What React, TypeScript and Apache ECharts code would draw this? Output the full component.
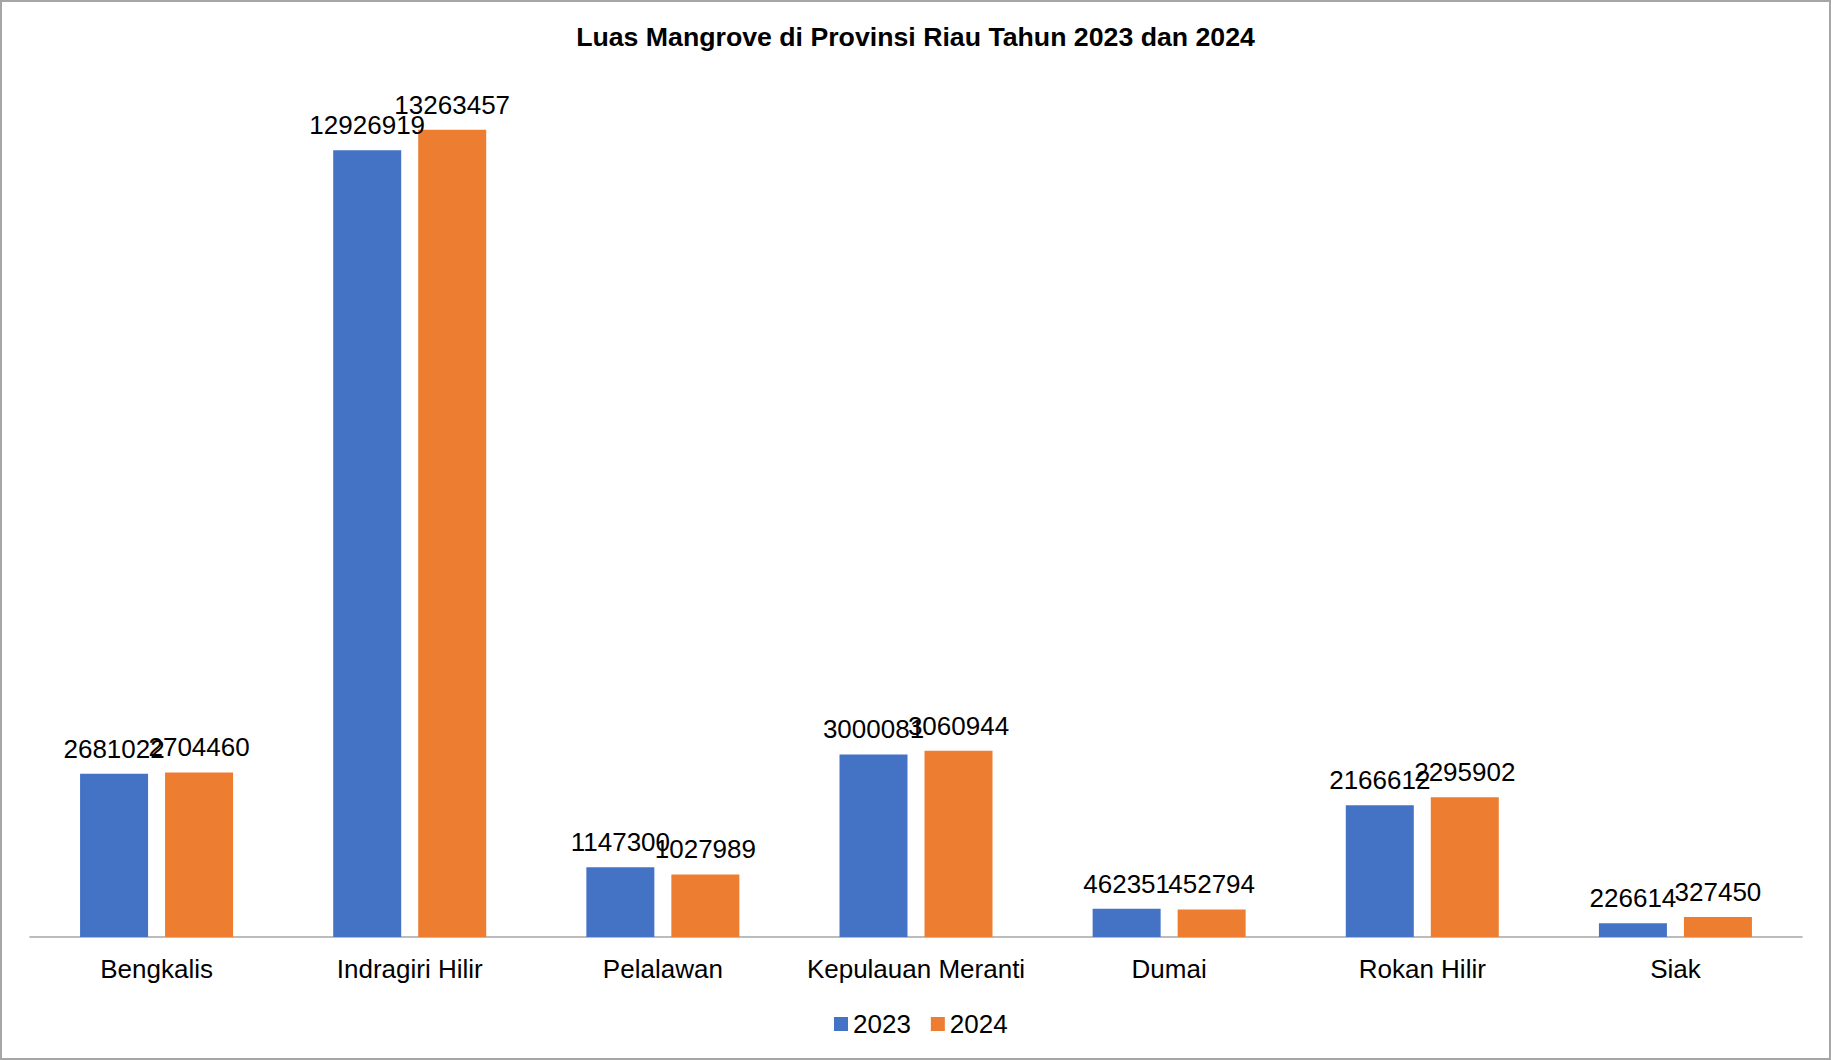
import React, { useEffect, useRef } from "react";
import * as echarts from "echarts";

const categories = [
  "Bengkalis",
  "Indragiri Hilir",
  "Pelalawan",
  "Kepulauan Meranti",
  "Dumai",
  "Rokan Hilir",
  "Siak",
];
const values2023 = [2681022, 12926919, 1147300, 3000081, 462351, 2166612, 226614];
const values2024 = [2704460, 13263457, 1027989, 3060944, 452794, 2295902, 327450];
const seriesNames = ["2023", "2024"];

const FONT = "'Liberation Sans', Arial, Helvetica, sans-serif";

export default function App() {
  const ref = useRef<HTMLDivElement>(null);
  useEffect(() => {
    document.body.style.margin = "0";
    if (!ref.current) return;
    const chart = echarts.init(ref.current, null, { renderer: "svg" });
    const labelStyle = {
      show: true,
      position: "top" as const,
      distance: 12,
      color: "#000000",
      fontSize: 26,
      fontFamily: FONT,
    };
    chart.setOption({
      animation: false,
      backgroundColor: "#ffffff",
      title: {
        text: "Luas Mangrove di Provinsi Riau Tahun 2023 dan 2024",
        left: "center",
        top: 18,
        textStyle: {
          fontSize: 26.7,
          fontWeight: "bold",
          color: "#000000",
          fontFamily: FONT,
        },
      },
      legend: {
        data: seriesNames,
        bottom: 18,
        left: 829,
        itemWidth: 14,
        itemHeight: 14,
        itemGap: 20,
        icon: "rect",
        textStyle: { fontSize: 26, color: "#000000", fontFamily: FONT },
      },
      grid: { left: 30, right: 29, top: 85, bottom: 1060 - 937, containLabel: false },
      xAxis: {
        type: "category",
        data: categories,
        axisLine: { lineStyle: { color: "#A6A6A6", width: 1.5 } },
        axisTick: { show: false },
        axisLabel: {
          color: "#000000",
          fontSize: 26,
          fontFamily: FONT,
          margin: 19,
          interval: 0,
        },
      },
      yAxis: {
        type: "value",
        min: 0,
        max: 14000000,
        show: false,
        splitLine: { show: false },
      },
      graphic: [
        {
          type: "rect",
          shape: { x: 1, y: 1, width: 1829, height: 1058 },
          style: { fill: "none", stroke: "#A6A6A6", lineWidth: 2 },
          silent: true,
        },
      ],
      series: [
        {
          name: seriesNames[0],
          type: "bar",
          data: values2023,
          barWidth: 68,
          barGap: "25%",
          itemStyle: { color: "#4472C4" },
          label: labelStyle,
        },
        {
          name: seriesNames[1],
          type: "bar",
          data: values2024,
          barWidth: 68,
          barGap: "25%",
          itemStyle: { color: "#ED7D31" },
          label: labelStyle,
        },
      ],
    });
    return () => chart.dispose();
  }, []);
  return (
    <div
      ref={ref}
      style={{ position: "absolute", left: 0, top: 0, width: 1831, height: 1060 }}
    />
  );
}
